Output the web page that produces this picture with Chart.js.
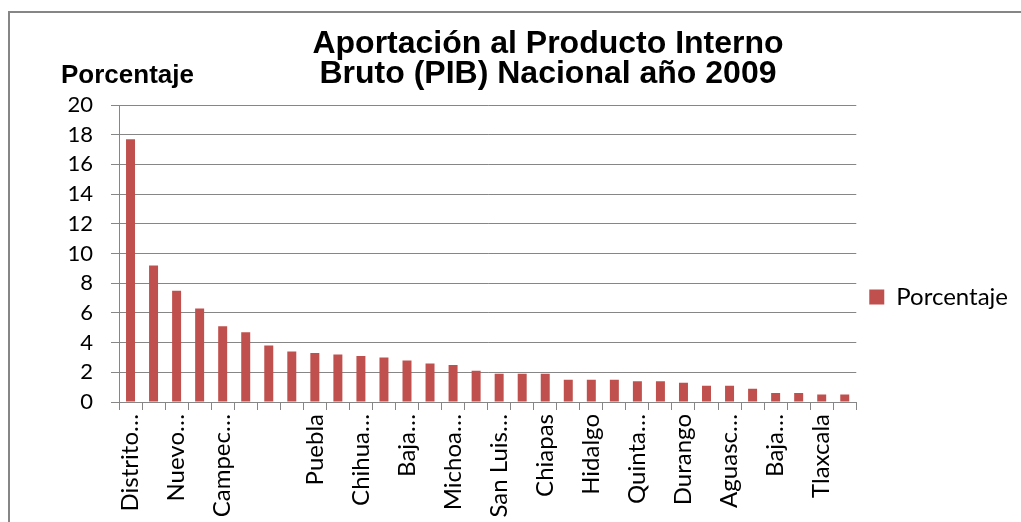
<!DOCTYPE html>
<html>
<head>
<meta charset="utf-8">
<script src="https://cdn.jsdelivr.net/npm/chart.js@4.4.1/dist/chart.umd.min.js"></script>
<style>
  html, body { margin: 0; padding: 0; background: #fff; }
  #wrap { position: relative; width: 1021px; height: 522px; overflow: hidden; }
  #frame {
    position: absolute; left: 8px; top: 11px; width: 1100px; height: 600px;
    border-left: 2px solid #868686; border-top: 2px solid #868686;
  }
  #chartTitle {
    position: absolute; left: 248px; top: 27px; width: 600px; text-align: center;
    font: bold 32px/30px "Liberation Sans", Arial, sans-serif; color: #000;
  }
  #yCaption {
    position: absolute; left: 61px; top: 61px;
    font: bold 26px/26px "Liberation Sans", Arial, sans-serif; color: #000;
  }
  canvas { position: absolute; left: 0; top: 0; }
</style>
</head>
<body>
<div id="wrap">
  <div id="frame"></div>
  <canvas id="pibChart" width="1021" height="522"></canvas>
  <div id="chartTitle"></div>
  <div id="yCaption"></div>
</div>
<script>
/* ── Data ───────────────────────────────────────────────────── */
const states = [
    'Distrito Federal', 'México', 'Nuevo León', 'Jalisco', 'Campeche', 'Veracruz',
    'Guanajuato', 'Tamaulipas', 'Puebla', 'Coahuila', 'Chihuahua', 'Sonora',
    'Baja California', 'Tabasco', 'Michoacán', 'Sinaloa', 'San Luis Potosí', 'Querétaro',
    'Chiapas', 'Oaxaca', 'Hidalgo', 'Yucatán', 'Quintana Roo', 'Guerrero',
    'Durango', 'Morelos', 'Aguascalientes', 'Zacatecas', 'Baja California Sur', 'Nayarit',
    'Tlaxcala', 'Colima',
];
const porcentaje = [
    17.7, 9.2, 7.5, 6.3, 5.1, 4.7, 3.8, 3.4, 3.3, 3.2, 3.1, 3.0, 2.8, 2.6, 2.5, 2.1,
    1.9, 1.9, 1.9, 1.5, 1.5, 1.5, 1.4, 1.4, 1.3, 1.1, 1.1, 0.9, 0.6, 0.6, 0.5, 0.5,
];
// labels as printed under the axis (only every second one fits)
const tickLabels = [
    'Distrito…', '', 'Nuevo…', '', 'Campec…', '', '', '', 'Puebla', '', 'Chihua…', '',
    'Baja…', '', 'Michoa…', '', 'San Luis…', '', 'Chiapas', '', 'Hidalgo', '',
    'Quinta…', '', 'Durango', '', 'Aguasc…', '', 'Baja…', '', 'Tlaxcala', '',
];
const yTicks = [0, 2, 4, 6, 8, 10, 12, 14, 16, 18, 20];
const titleLines = ['Aportación al Producto Interno', 'Bruto (PIB) Nacional año 2009'];
const axisCaption = 'Porcentaje';
const seriesName = 'Porcentaje';

/* ── Styles ─────────────────────────────────────────────────── */
const palette = {
    bar:  '#C0504D',
    grid: '#868686',
    text: '#000000',
};
const yTickFont = { family: 'Lato', size: 22 };
const labelFont = { family: 'Lato', size: 24 };

/* ── Captions (real text, outside the canvas) ───────────────── */
const titleEl = document.getElementById('chartTitle');
titleLines.forEach(line => {
    const d = document.createElement('div');
    d.textContent = line;
    titleEl.appendChild(d);
});
document.getElementById('yCaption').textContent = axisCaption;

new Chart(document.getElementById('pibChart'), {
    type: 'bar',
    data: {
        labels: states,
        datasets: [{
            label: seriesName,
            data: porcentaje,
            backgroundColor: palette.bar,
            borderWidth: 0,
            barPercentage: 0.39,
            categoryPercentage: 1,
        }],
    },
    options: {
        responsive: false,
        animation: false,
        devicePixelRatio: 1,
        layout: { padding: { left: 50, right: 3, top: 105, bottom: 0 } },
        plugins: {
            tooltip: { enabled: false },
            title: { display: false },
            legend: {
                position: 'right',
                fullSize: false,
                // empty legend title just pushes the single entry down
                title: { display: true, text: ' ', font: { size: 1 }, padding: { top: 86, bottom: 0 } },
                labels: {
                    color: palette.text,
                    font: labelFont,
                    boxWidth: 15,
                    boxHeight: 15,
                    padding: 13,
                },
            },
        },
        scales: {
            x: {
                afterFit: s => { s.height = 120; },
                grid: {
                    offset: true,
                    drawOnChartArea: false,
                    drawTicks: true,
                    tickLength: 8,
                    color: palette.grid,
                },
                border: { color: palette.grid, width: 1 },
                ticks: {
                    autoSkip: false,
                    minRotation: 90,
                    maxRotation: 90,
                    padding: 4,
                    color: palette.text,
                    font: labelFont,
                    callback: (v, i) => tickLabels[i],
                },
            },
            y: {
                min: yTicks[0],
                max: yTicks[yTicks.length - 1],
                afterFit: s => { s.width = 69; },
                afterBuildTicks: s => { s.ticks = yTicks.map(v => ({ value: v })); },
                grid: { color: palette.grid, lineWidth: 1, tickLength: 8 },
                border: { color: palette.grid, width: 1 },
                ticks: {
                    padding: 18,
                    color: palette.text,
                    font: yTickFont,
                },
            },
        },
    },
});
</script>
</body>
</html>
